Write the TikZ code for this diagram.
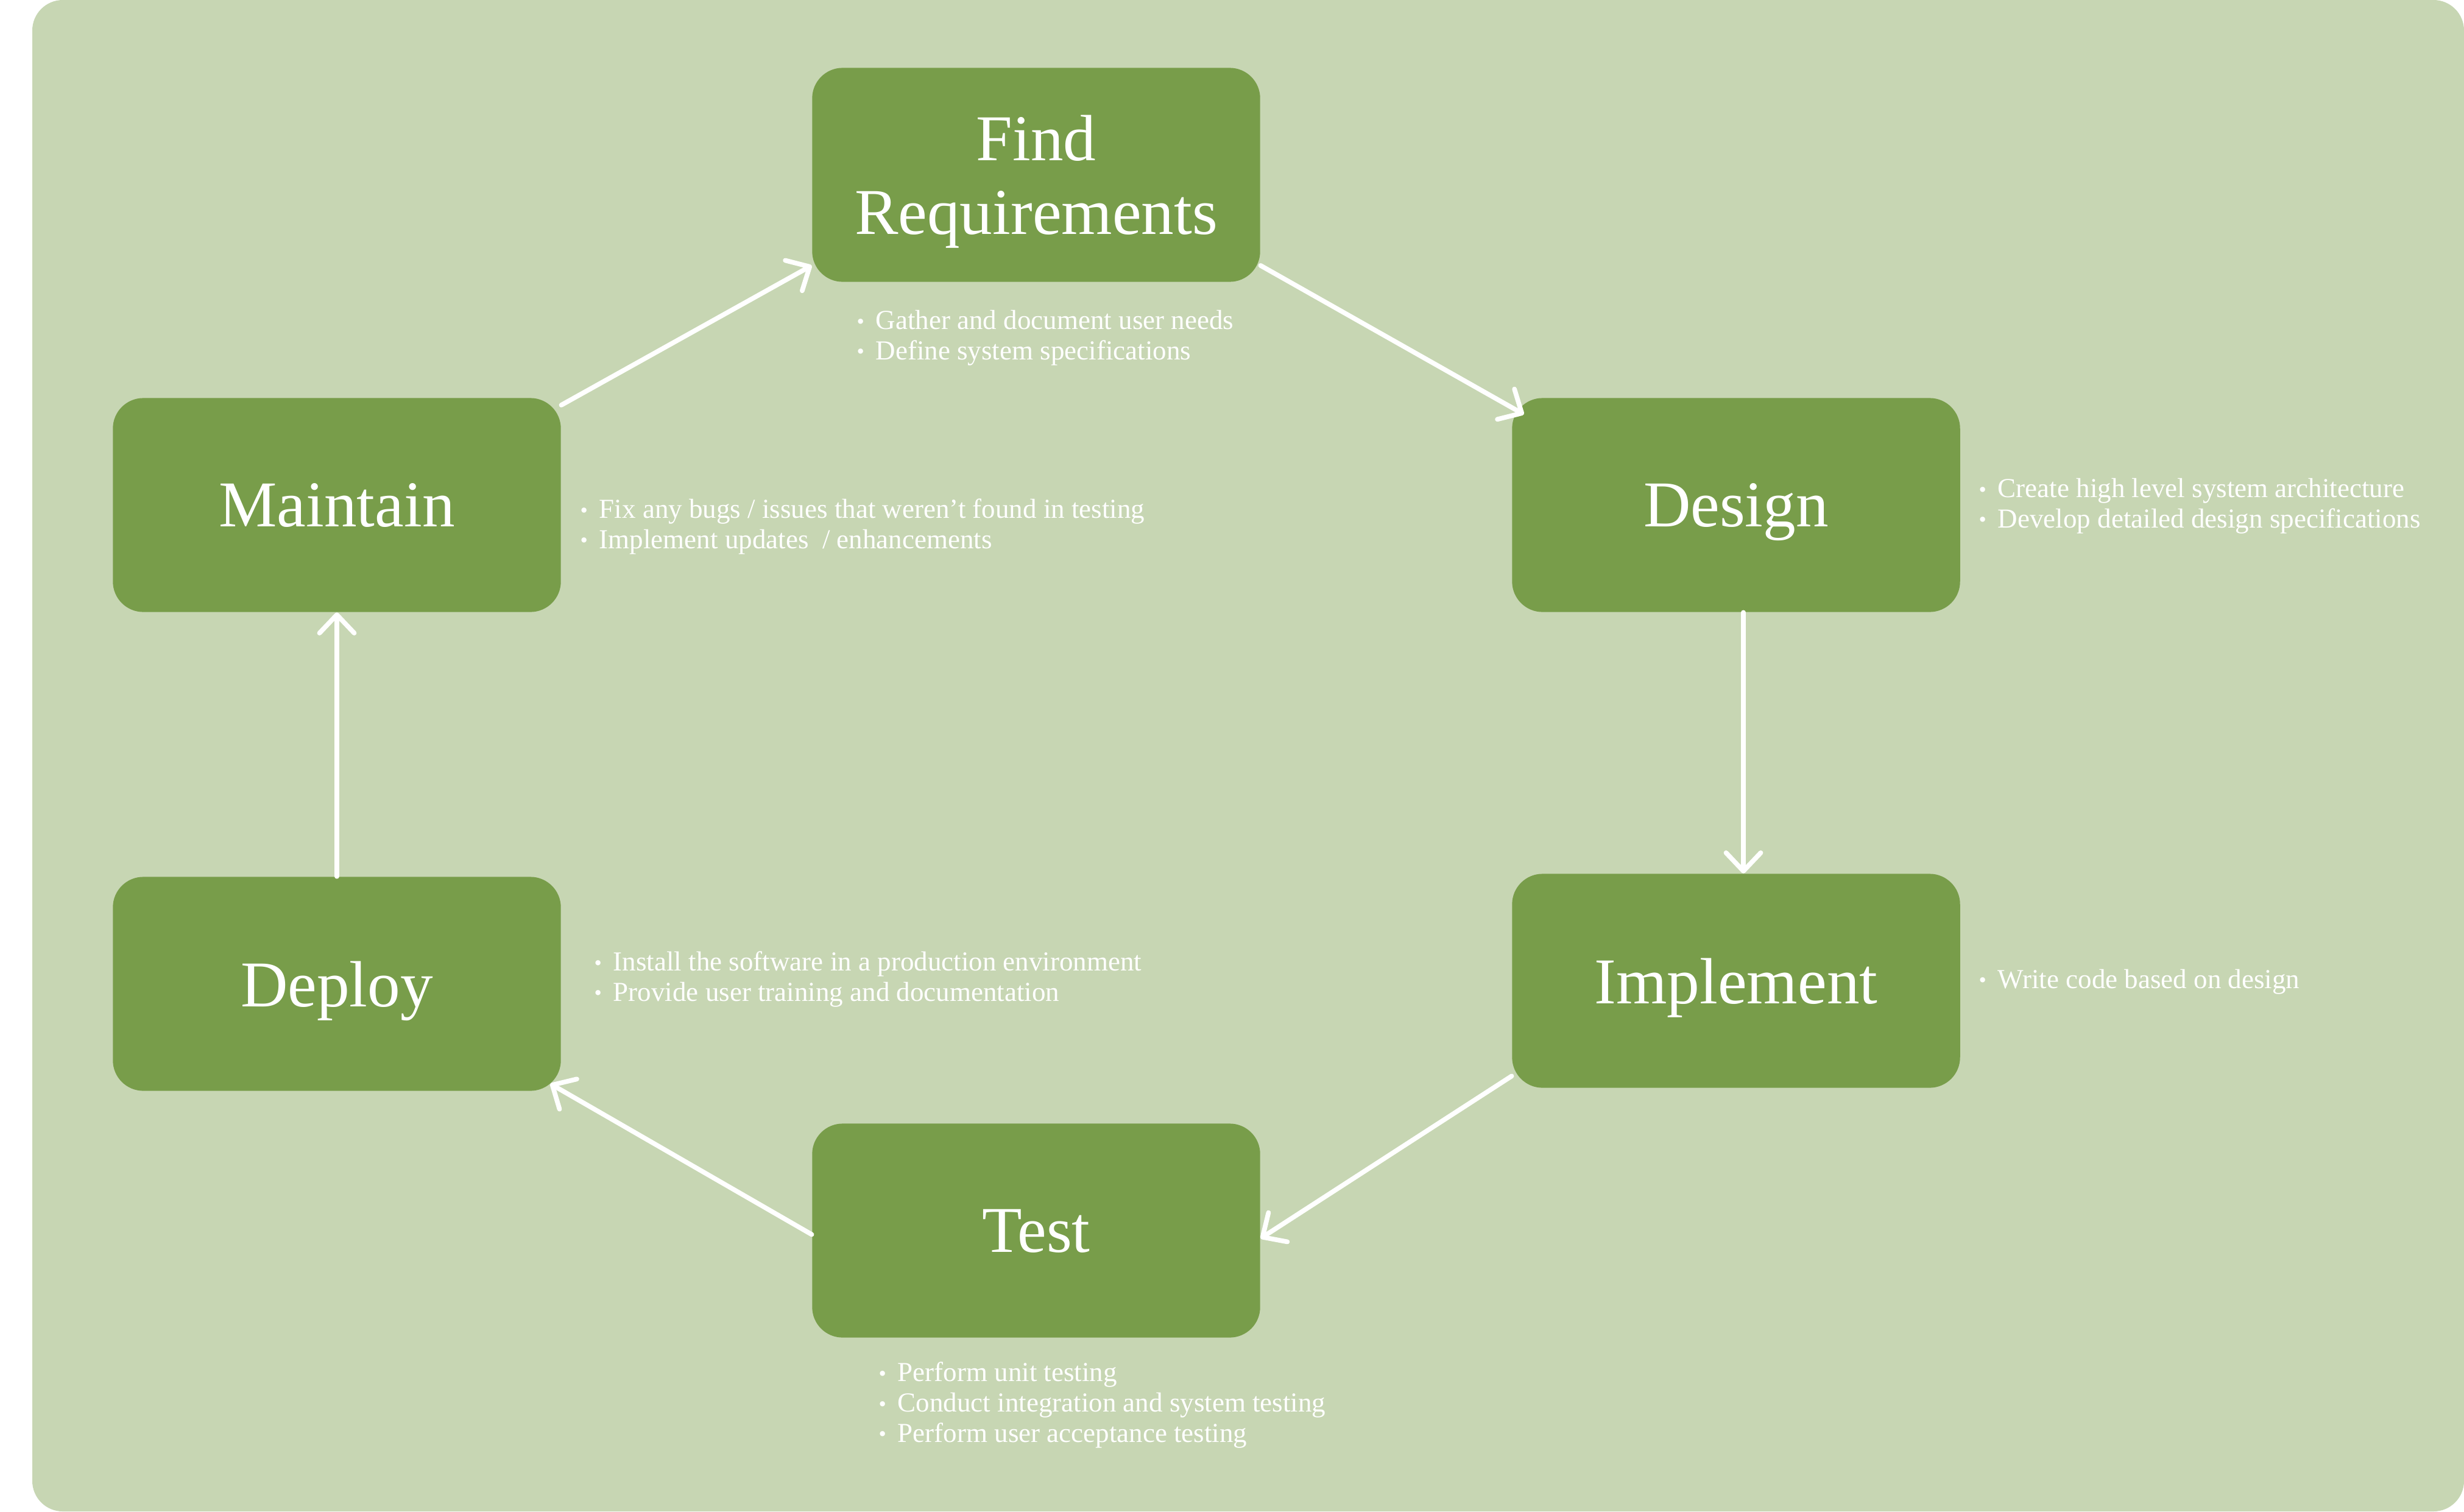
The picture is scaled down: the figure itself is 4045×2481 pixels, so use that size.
\documentclass[tikz,border=0pt]{standalone}
\usepackage{fontspec}
\setmainfont{Liberation Serif}
\usepackage{tikz}
\usetikzlibrary{arrows.meta}
\definecolor{sage}{HTML}{C7D6B3}
\definecolor{moss}{HTML}{789D4A}
\newcommand{\itm}{\makebox[0.31cm][l]{\raisebox{0.3pt}{\fontsize{10}{10}\selectfont\textbullet}}}

\begin{document}
\begin{tikzpicture}
    [x=0.01cm, y=-0.01cm,
    phase/.style={fill=moss, text=white, rounded corners=0.5cm, minimum width=7.35cm,
      minimum height=3.51cm, text depth=0pt, align=center,
      font=\fontsize{30.5}{34.5}\selectfont},
    notes/.style={text=white, anchor=base west, inner sep=0pt, align=left,
      font=\fontsize{12.8}{14.2}\selectfont},
    flow/.style={draw=white, line width=2.2pt, line cap=round,
      -{Straight Barb[length=3mm, width=5.7mm, round]}}]
  \useasboundingbox (0,0) rectangle (4045,2481);
  \fill [sage, rounded corners=0.5cm] (53,0) rectangle (4045,2481);

  \node [phase] (req) at (1701,287) {Find\\Requirements};
  \node [phase] (design) at (2850,829) {Design};
  \node [phase] (impl) at (2850,1610) {Implement};
  \node [phase] (test) at (1701,2020) {Test};
  \node [phase] (deploy) at (553,1615) {Deploy};
  \node [phase] (maint) at (553,829) {Maintain};

  % notes, placed by the baseline of their last line
  \node [notes] (reqn) at (1406,590) {\itm Gather and document user needs\\
    \itm Define system specifications};
  \node [notes] (designn) at (3248,866) {\itm Create high level system architecture\\
    \itm Develop detailed design specifications};
  \node [notes] (impln) at (3248,1622) {\itm Write code based on design};
  \node [notes] (testn) at (1442,2367) {\itm Perform unit testing\\
    \itm Conduct integration and system testing\\
    \itm Perform user acceptance testing};
  \node [notes] (deployn) at (975,1643) {\itm Install the software in a production environment\\
    \itm Provide user training and documentation};
  \node [notes] (maintn) at (952,900) {\itm Fix any bugs / issues that weren’t found in testing\\
    \itm Implement updates~~/ enhancements};

  \draw [flow] (maint.24) -- (req.202);
  \draw [flow] (req.-22) -- ([xshift=0.2cm]design.158);
  \draw [flow] ([xshift=0.12cm]design.south) -- ([xshift=0.12cm]impl.north);
  \draw [flow] (impl.203) -- (test.-2);
  \draw [flow] (test.181) -- ([xshift=-0.18cm]deploy.-24);
  \draw [flow] (deploy.north) -- (maint.south);
\end{tikzpicture}
\end{document}
